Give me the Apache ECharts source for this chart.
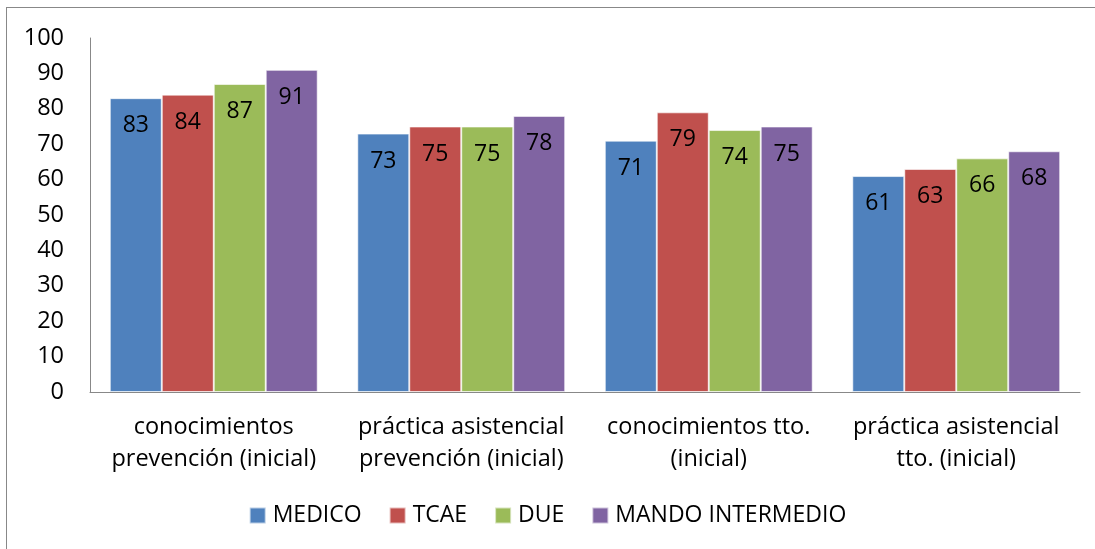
<!DOCTYPE html>
<html>
<head>
<meta charset="utf-8">
<script src="https://cdn.jsdelivr.net/npm/echarts@6/dist/echarts.min.js"></script>
<style>
  html, body { margin: 0; padding: 0; background: #fff; overflow: hidden; }
  #frame { position: absolute; left: 6px; top: 7px; width: 1100px; height: 560px; border: 1px solid #888; box-sizing: border-box; }
  #main { position: absolute; left: 0; top: 0; width: 1095px; height: 549px; }
</style>
</head>
<body>
<div id="frame"></div>
<div id="main"></div>
<script>
var categories = [
  'conocimientos\nprevención (inicial)',
  'práctica asistencial\nprevención (inicial)',
  'conocimientos tto.\n(inicial)',
  'práctica asistencial\ntto. (inicial)'
]
var seriesNames = ['MEDICO', 'TCAE', 'DUE', 'MANDO INTERMEDIO']
var medico = [83, 73, 71, 61]
var tcae = [84, 75, 79, 63]
var due = [87, 75, 74, 66]
var mando = [91, 78, 75, 68]
var yTicks = [0, 100, 10]

var chartDom = document.getElementById('main')
var myChart = echarts.init(chartDom)
var font = '"Open Sans", Lato, sans-serif'
var values = [medico, tcae, due, mando]

var option = {
  color: ['#4F81BD', '#C0504D', '#9BBB59', '#8064A2'],
  textStyle: { fontFamily: font },
  animation: false,
  grid: {
    left: 90,
    right: 15,
    top: 38,
    bottom: 157,
  },
  legend: {
    data: seriesNames,
    bottom: 17,
    left: 'center',
    icon: 'rect',
    itemWidth: 16,
    itemHeight: 16,
    itemGap: 27,
    textStyle: { fontSize: 23, color: '#000', fontFamily: font, padding: [0, 0, 0, 2] },
  },
  xAxis: {
    type: 'category',
    data: categories,
    axisLine: { lineStyle: { color: '#888' } },
    axisTick: { show: false },
    axisLabel: {
      fontSize: 23.5,
      color: '#000',
      lineHeight: 32,
      margin: 19,
      interval: 0,
      fontFamily: font,
    },
  },
  yAxis: {
    type: 'value',
    min: yTicks[0],
    max: yTicks[1],
    interval: yTicks[2],
    axisLine: { show: true, lineStyle: { color: '#888' } },
    axisTick: { show: false },
    splitLine: { show: false },
    axisLabel: { fontSize: 23.5, color: '#000', margin: 26, fontFamily: font },
  },
  series: seriesNames.map(function (name, i) {
    return {
      name: name,
      type: 'bar',
      data: values[i],
      barGap: '0%',
      barCategoryGap: '16%',
      itemStyle: { borderColor: 'rgba(255,255,255,0.6)', borderWidth: 1 },
      label: {
        show: true,
        position: 'insideTop',
        distance: 16,
        fontSize: 23,
        color: '#000',
        fontFamily: font,
      },
    }
  }),
}
option && myChart.setOption(option)
</script>
</body>
</html>
